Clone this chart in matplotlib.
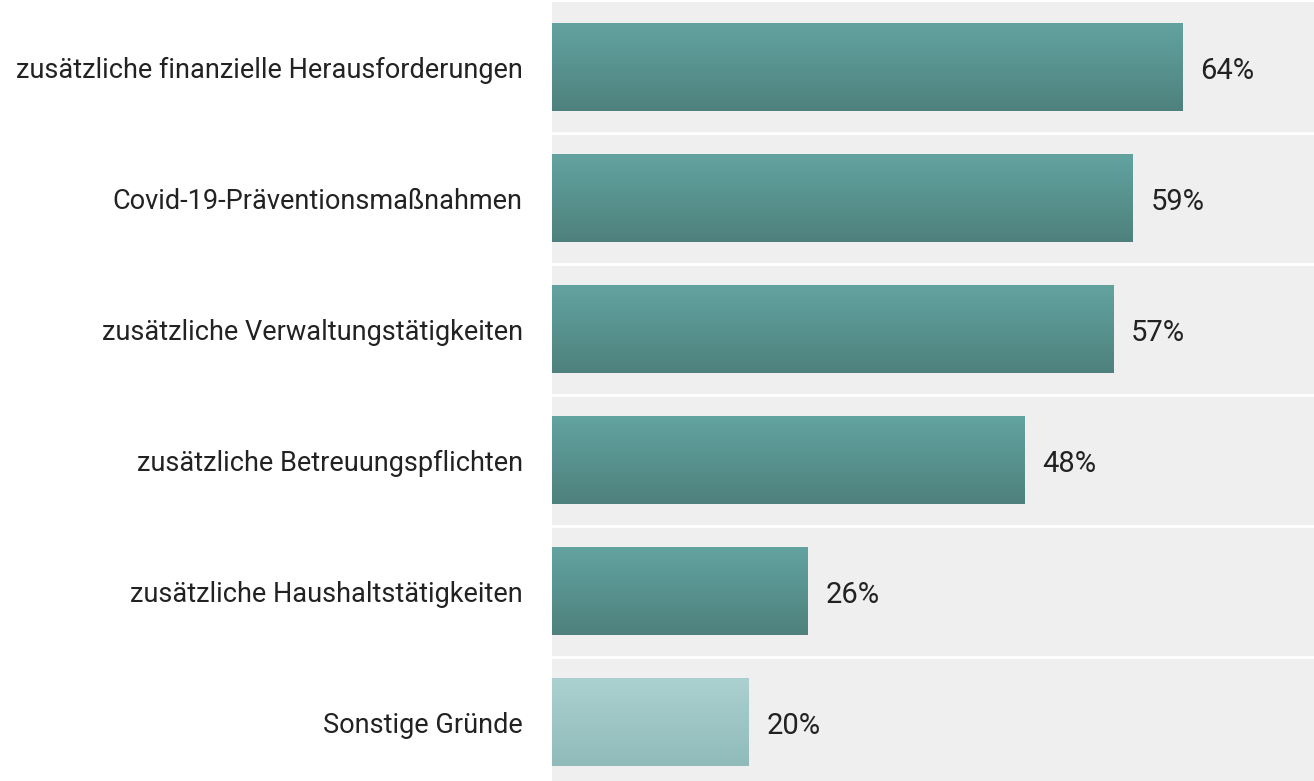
import numpy as np
import matplotlib.pyplot as plt
from matplotlib.colors import LinearSegmentedColormap

plt.rcParams['font.family'] = ['Roboto', 'DejaVu Sans']

kategorien = ["zusätzliche finanzielle Herausforderungen",
              "Covid-19-Präventionsmaßnahmen",
              "zusätzliche Verwaltungstätigkeiten",
              "zusätzliche Betreuungspflichten",
              "zusätzliche Haushaltstätigkeiten",
              "Sonstige Gründe"]
werte = [64, 59, 57, 48, 26, 20]
hervorheben = [True, True, True, True, True, False]

dunkel = LinearSegmentedColormap.from_list("dunkel", ["#62a3a0", "#4e817d"])
hell = LinearSegmentedColormap.from_list("hell", ["#abd0d0", "#90bbba"])

fig = plt.figure(figsize=(13.14, 7.81), dpi=100)
ax = fig.add_axes([552/1314, 0, 1 - 552/1314, 779/781])
ax.set_facecolor("#efefef")

n = len(kategorien)
y = np.arange(n)
h = 0.665
bars = ax.barh(y, werte, height=h, color="none")

grad = np.linspace(0, 1, 100).reshape(-1, 1)
for b, farbig in zip(bars, hervorheben):
    x0, y0 = b.get_x(), b.get_y()
    ax.imshow(grad, cmap=dunkel if farbig else hell, aspect="auto",
              extent=[x0, x0 + b.get_width(), y0 + b.get_height(), y0],
              zorder=2, interpolation="bicubic")

for i in range(n - 1):
    ax.axhline(i + 0.5, color="white", lw=2, zorder=1)

for i, v in enumerate(werte):
    ax.text(v + 1.8, i + 0.03, f"{v}%", va="center", ha="left", fontsize=21, color="#222222")

ax.set_xlim(0, 77.4)
ax.set_ylim(5.45, -0.5)
ax.set_yticks(y)
ax.set_yticklabels(kategorien, fontsize=19.5, color="#222222")
ax.tick_params(axis="y", length=0, pad=21)
ax.set_xticks([])
for s in ax.spines.values():
    s.set_visible(False)

fig.savefig("out.png", dpi=100)
